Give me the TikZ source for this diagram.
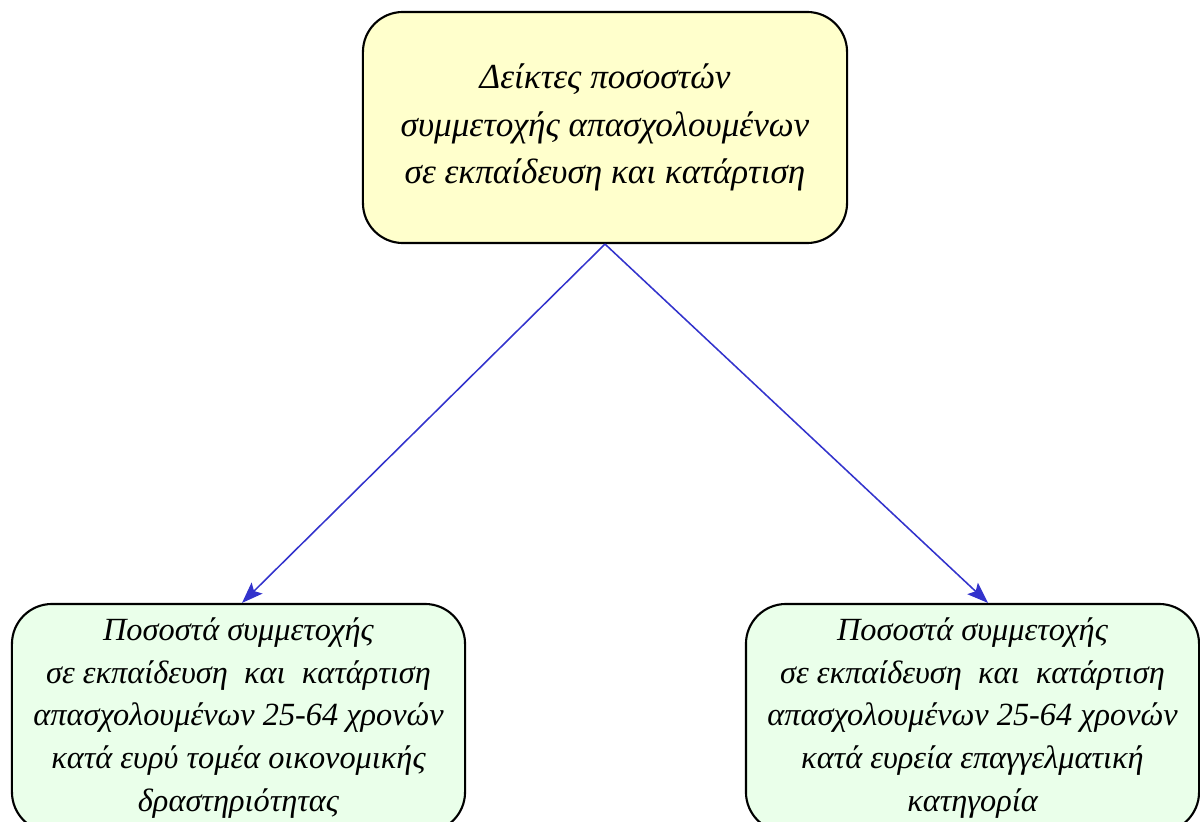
\documentclass[tikz,border=0pt]{standalone}
\usepackage{fontspec}
\setmainfont{Liberation Serif}
\usepackage{xcolor}
\usepackage{tikz}
\usetikzlibrary{arrows.meta}
\definecolor{topfill}{RGB}{255,255,204}
\definecolor{subfill}{RGB}{234,255,234}
\definecolor{linkblue}{RGB}{51,51,204}

\begin{document}
\begin{tikzpicture}[x=0.025cm,y=-0.025cm,
    box/.style={draw=black,line width=1.5pt,rounded corners=1cm,align=center,
      font=\itshape},
    link/.style={draw=linkblue,line width=1.1pt,-{Stealth[length=15pt,width=11pt,inset=3pt]}}]
        \useasboundingbox (0,0) rectangle (1200,821);
        \node[box,fill=topfill,minimum width=12.1cm,minimum height=5.775cm,
          font=\itshape\fontsize{25}{34}\selectfont] (index) at (605,127.5)
          {Δείκτες ποσοστών\\ συμμετοχής απασχολουμένων\\ σε εκπαίδευση και κατάρτιση};
        \node[box,fill=subfill,minimum width=11.325cm,minimum height=5.7cm,
          font=\itshape\fontsize{23}{30.5}\selectfont] (sector) at (238.5,718)
          {Ποσοστά συμμετοχής\\ σε εκπαίδευση\ \ και\ \ κατάρτιση\\ απασχολουμένων 25-64 χρονών\\
           κατά ευρύ τομέα οικονομικής\\ δραστηριότητας};
        \node[box,fill=subfill,minimum width=11.325cm,minimum height=5.7cm,
          font=\itshape\fontsize{23}{30.5}\selectfont] (occup) at (972.5,718)
          {Ποσοστά συμμετοχής\\ σε εκπαίδευση\ \ και\ \ κατάρτιση\\ απασχολουμένων 25-64 χρονών\\
           κατά ευρεία επαγγελματική\\ κατηγορία};
        \draw[link] (index.south) -- ([xshift=2.5pt]sector.north);
        \draw[link] (index.south) -- ([xshift=11pt]occup.north);
      \end{tikzpicture}
\end{document}
